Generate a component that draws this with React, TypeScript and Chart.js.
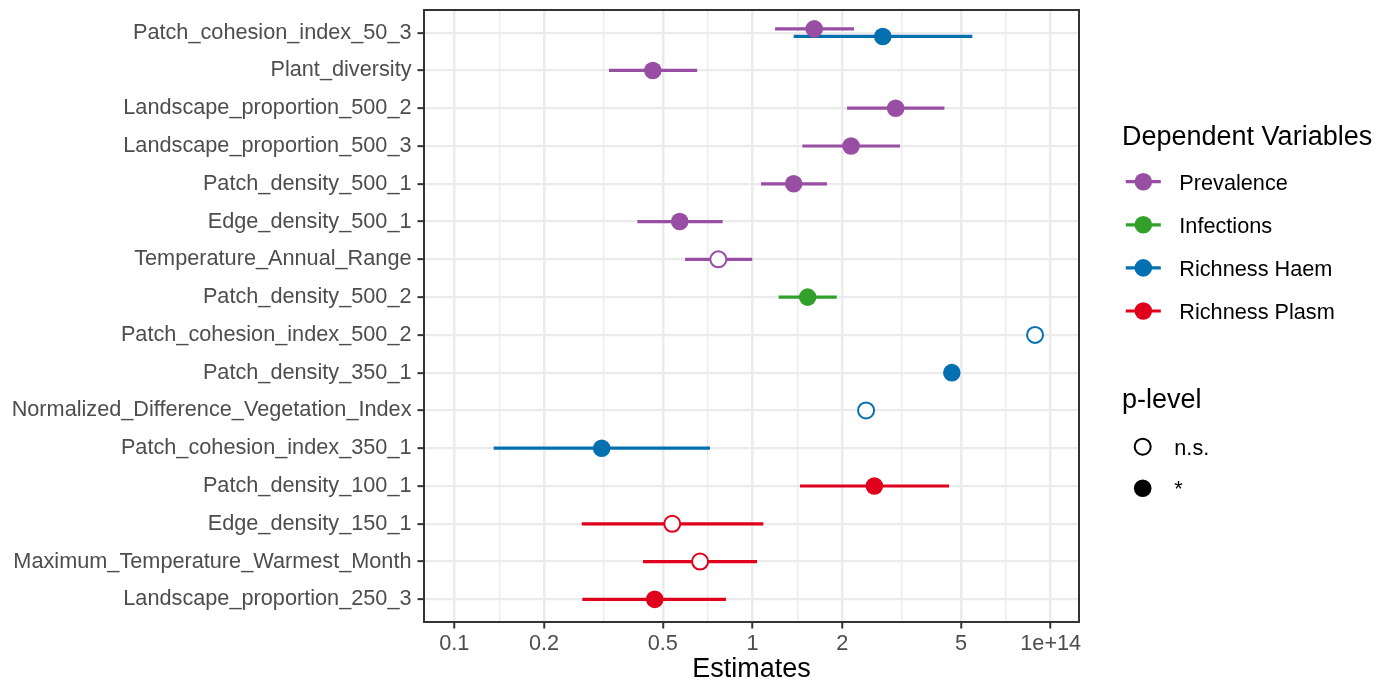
import React, { useEffect, useRef } from 'react';
import { Chart, registerables } from 'chart.js';

Chart.register(...registerables);

const FONT = "'Liberation Sans', Arial, sans-serif";

const categories = [
  'Patch_cohesion_index_50_3',
  'Plant_diversity',
  'Landscape_proportion_500_2',
  'Landscape_proportion_500_3',
  'Patch_density_500_1',
  'Edge_density_500_1',
  'Temperature_Annual_Range',
  'Patch_density_500_2',
  'Patch_cohesion_index_500_2',
  'Patch_density_350_1',
  'Normalized_Difference_Vegetation_Index',
  'Patch_cohesion_index_350_1',
  'Patch_density_100_1',
  'Edge_density_150_1',
  'Maximum_Temperature_Warmest_Month',
  'Landscape_proportion_250_3',
];

const tickValues = [0.1, 0.2, 0.5, 1, 2, 5, 10];
const tickLabels = ['0.1', '0.2', '0.5', '1', '2', '5', '1e+14'];

const seriesNames = ['Prevalence', 'Infections', 'Richness Haem', 'Richness Plasm'];
const seriesColors = ['#984EA3', '#33A02C', '#0570B0', '#E0001B'];

// Prevalence
const prevalenceVars = [
  'Patch_cohesion_index_50_3',
  'Plant_diversity',
  'Landscape_proportion_500_2',
  'Landscape_proportion_500_3',
  'Patch_density_500_1',
  'Edge_density_500_1',
  'Temperature_Annual_Range',
];
const prevalenceEst = [1.61, 0.463, 3.02, 2.14, 1.374, 0.57, 0.768];
const prevalenceLow = [1.19, 0.330, 2.075, 1.469, 1.068, 0.411, 0.594];
const prevalenceHigh = [2.19, 0.652, 4.40, 3.124, 1.777, 0.794, 0.998];
const prevalenceSig = [true, true, true, true, true, true, false];

// Infections
const infectionsVars = ['Patch_density_500_2'];
const infectionsEst = [1.531];
const infectionsLow = [1.224];
const infectionsHigh = [1.916];
const infectionsSig = [true];

// Richness Haem
const haemVars = [
  'Patch_cohesion_index_50_3',
  'Patch_cohesion_index_500_2',
  'Patch_density_350_1',
  'Normalized_Difference_Vegetation_Index',
  'Patch_cohesion_index_350_1',
];
const haemEst = [2.734, 8.86, 4.66, 2.403, 0.312];
const haemLow = [1.374, null, null, null, 0.1355];
const haemHigh = [5.46, null, null, null, 0.72];
const haemSig = [true, false, true, false, true];

// Richness Plasm
const plasmVars = [
  'Patch_density_100_1',
  'Edge_density_150_1',
  'Maximum_Temperature_Warmest_Month',
  'Landscape_proportion_250_3',
];
const plasmEst = [2.562, 0.538, 0.667, 0.47];
const plasmLow = [1.443, 0.2675, 0.4294, 0.2687];
const plasmHigh = [4.56, 1.087, 1.035, 0.815];
const plasmSig = [true, false, false, true];

const seriesVars = [prevalenceVars, infectionsVars, haemVars, plasmVars];
const seriesEst = [prevalenceEst, infectionsEst, haemEst, plasmEst];
const seriesLow = [prevalenceLow, infectionsLow, haemLow, plasmLow];
const seriesHigh = [prevalenceHigh, infectionsHigh, haemHigh, plasmHigh];
const seriesSig = [prevalenceSig, infectionsSig, haemSig, plasmSig];

const minorTicks = tickValues.slice(0, -1).map((v, i) => Math.sqrt(v * tickValues[i + 1]));

const isMajor = (v: number) => tickValues.some((t) => Math.abs(t - v) < 1e-9);

const TEXT = 21.7;
const TITLE = 27;

function buildDatasets() {
  const rowSeries: Record<string, number[]> = {};
  seriesVars.forEach((vars, s) => vars.forEach((v) => {
    (rowSeries[v] = rowSeries[v] || []).push(s);
  }));
  const dodgeWidth = 0.2;
  return seriesNames.map((name, s) => ({
    label: name,
    type: 'scatter' as const,
    borderColor: seriesColors[s],
    backgroundColor: seriesColors[s],
    data: seriesVars[s].map((v, i) => {
      const members = rowSeries[v];
      const k = members.indexOf(s);
      const off = (k - (members.length - 1) / 2) * dodgeWidth;
      return {
        x: seriesEst[s][i],
        y: categories.indexOf(v) + off,
        lo: seriesLow[s][i],
        hi: seriesHigh[s][i],
        sig: seriesSig[s][i],
      };
    }),
    pointRadius: (c: any) => (c.raw && c.raw.sig ? 8.8 : 8),
    pointBackgroundColor: (c: any) => (c.raw && c.raw.sig ? seriesColors[s] : '#FFFFFF'),
    pointBorderColor: seriesColors[s],
    pointBorderWidth: (c: any) => (c.raw && c.raw.sig ? 0 : 2),
  }));
}

const errorBarPlugin = {
  id: 'errorBars',
  beforeDatasetsDraw(chart: any) {
    const { ctx, chartArea, scales } = chart;
    const x = scales.x;
    const y = scales.y;
    ctx.save();
    ctx.beginPath();
    ctx.rect(chartArea.left, chartArea.top, chartArea.right - chartArea.left, chartArea.bottom - chartArea.top);
    ctx.clip();
    chart.data.datasets.forEach((ds: any) => {
      ctx.strokeStyle = ds.borderColor;
      ctx.lineWidth = 3.2;
      ctx.lineCap = 'butt';
      ds.data.forEach((p: any) => {
        if (p.lo == null || p.hi == null) return;
        const py = y.getPixelForValue(p.y);
        ctx.beginPath();
        ctx.moveTo(x.getPixelForValue(p.lo), py);
        ctx.lineTo(x.getPixelForValue(p.hi), py);
        ctx.stroke();
      });
    });
    ctx.restore();
  },
};

const panelBorderPlugin = {
  id: 'panelBorder',
  afterDatasetsDraw(chart: any) {
    const { ctx, chartArea } = chart;
    ctx.save();
    ctx.strokeStyle = '#333333';
    ctx.lineWidth = 2;
    ctx.strokeRect(chartArea.left, chartArea.top, chartArea.right - chartArea.left, chartArea.bottom - chartArea.top);
    ctx.restore();
  },
};

const legendPlugin = {
  id: 'ggLegend',
  afterDraw(chart: any) {
    const { ctx } = chart;
    ctx.save();
    ctx.textAlign = 'left';
    ctx.textBaseline = 'alphabetic';
    ctx.fillStyle = '#000000';
    ctx.font = `${TITLE}px ${FONT}`;
    ctx.fillText('Dependent Variables', 1122, 144.5);
    const keyX = 1143.3;
    const keyY0 = 181.7;
    const keyStep = 43.1;
    seriesNames.forEach((name, i) => {
      const cy = keyY0 + i * keyStep;
      ctx.strokeStyle = seriesColors[i];
      ctx.lineWidth = 3.2;
      ctx.beginPath();
      ctx.moveTo(keyX - 17.5, cy);
      ctx.lineTo(keyX + 17.5, cy);
      ctx.stroke();
      ctx.fillStyle = seriesColors[i];
      ctx.beginPath();
      ctx.arc(keyX, cy, 8.8, 0, Math.PI * 2);
      ctx.fill();
      ctx.fillStyle = '#000000';
      ctx.font = `${TEXT}px ${FONT}`;
      ctx.fillText(name, 1179.3, cy + 7.8);
    });
    ctx.font = `${TITLE}px ${FONT}`;
    ctx.fillText('p-level', 1122, 407.7);
    const pLabels = ['n.s.', '*'];
    pLabels.forEach((lab, i) => {
      const cy = 446.7 + i * 41.6;
      ctx.beginPath();
      ctx.arc(keyX - 0.6, cy, i === 0 ? 8 : 8.8, 0, Math.PI * 2);
      if (i === 0) {
        ctx.strokeStyle = '#000000';
        ctx.lineWidth = 2;
        ctx.stroke();
      } else {
        ctx.fillStyle = '#000000';
        ctx.fill();
      }
      ctx.fillStyle = '#000000';
      ctx.font = `${TEXT}px ${FONT}`;
      ctx.fillText(lab, 1174.3, cy + 7.8);
    });
    ctx.restore();
  },
};

export default function App() {
  const canvasRef = useRef<HTMLCanvasElement | null>(null);

  useEffect(() => {
    if (!canvasRef.current) return;
    const chart = new Chart(canvasRef.current, {
      type: 'scatter',
      data: { datasets: buildDatasets() as any },
      options: {
        responsive: false,
        animation: false,
        events: [],
        devicePixelRatio: 1,
        font: { family: FONT },
        layout: { padding: { left: 0, right: 312, top: 9.5, bottom: 0 } },
        plugins: {
          legend: { display: false },
          tooltip: { enabled: false },
        },
        scales: {
          x: {
            type: 'logarithmic',
            min: 0.07912,
            max: 12.44,
            afterBuildTicks: (s: any) => {
              s.ticks = [...tickValues, ...minorTicks].map((v) => ({ value: v }));
            },
            afterFit: (s: any) => {
              s.height = 62;
              s.paddingLeft = 0;
              s.paddingRight = 0;
              s.paddingTop = 0;
              s.paddingBottom = 0;
            },
            border: { display: false },
            grid: {
              color: '#EBEBEB',
              lineWidth: (c: any) => (c.tick && isMajor(c.tick.value) ? 2.5 : 1.4),
              tickColor: (c: any) => (c.tick && isMajor(c.tick.value) ? '#333333' : 'rgba(0,0,0,0)'),
              tickWidth: 2,
              tickLength: 6.5,
              drawTicks: true,
            },
            ticks: {
              autoSkip: false,
              maxRotation: 0,
              minRotation: 0,
              color: '#4D4D4D',
              padding: 3,
              font: { family: FONT, size: TEXT },
              callback: (value: any) => {
                const idx = tickValues.findIndex((t) => Math.abs(t - Number(value)) < 1e-9);
                return idx >= 0 ? tickLabels[idx] : '';
              },
            },
            title: {
              display: true,
              text: 'Estimates',
              color: '#000000',
              font: { family: FONT, size: TITLE },
              padding: { top: 0, bottom: -2 },
            },
          } as any,
          y: {
            type: 'linear',
            reverse: true,
            min: -0.6,
            max: 15.6,
            afterBuildTicks: (s: any) => {
              s.ticks = categories.map((_, i) => ({ value: i }));
            },
            afterFit: (s: any) => {
              s.width = 424;
              s.paddingTop = 0;
              s.paddingBottom = 0;
              s.paddingLeft = 0;
              s.paddingRight = 0;
            },
            border: { display: false },
            grid: {
              color: '#EBEBEB',
              lineWidth: 2.3,
              tickColor: '#333333',
              tickWidth: 2,
              tickLength: 6.5,
              drawTicks: true,
            },
            ticks: {
              autoSkip: false,
              color: '#4D4D4D',
              padding: 6,
              font: { family: FONT, size: TEXT },
              callback: (value: any) => categories[Number(value)] ?? '',
            },
          } as any,
        },
      },
      plugins: [errorBarPlugin, panelBorderPlugin, legendPlugin],
    });
    return () => chart.destroy();
  }, []);

  return (
    <div style={{ position: 'absolute', left: 0, top: 0, width: 1391, height: 684, background: '#FFFFFF' }}>
      <canvas ref={canvasRef} width={1391} height={684} style={{ width: 1391, height: 684, display: 'block' }} />
    </div>
  );
}
